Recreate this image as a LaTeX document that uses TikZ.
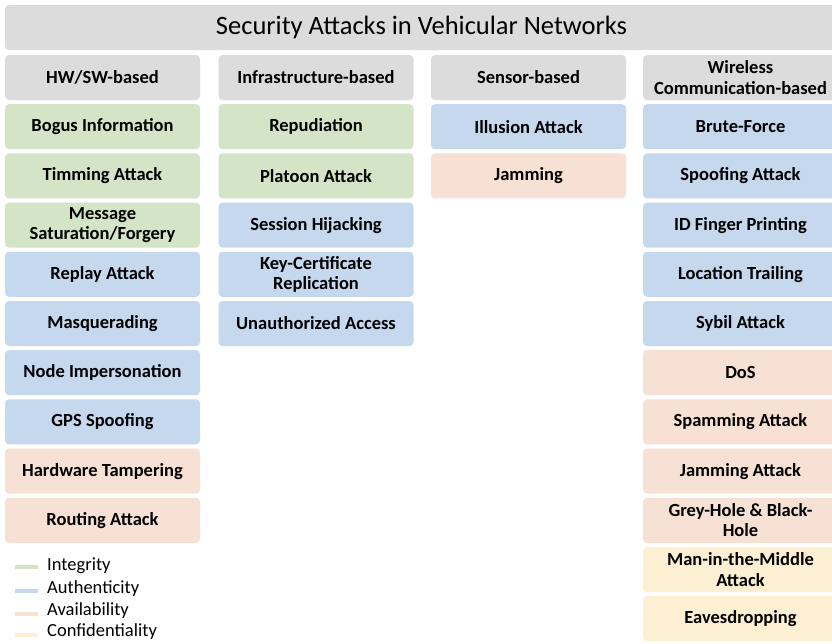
\documentclass[tikz,border=0pt]{standalone}
\usepackage{fontspec}
\setmainfont{Carlito}
\usepackage{xcolor}
\usepackage{tikz}
\definecolor{hdrgray}{HTML}{DCDCDC}
\definecolor{integ}{HTML}{D4E4C6}
\definecolor{authc}{HTML}{C6D8EE}
\definecolor{avail}{HTML}{F6E1D4}
\definecolor{confd}{HTML}{FDF0D2}

\tikzset{
  cell/.style={rounded corners=4pt,minimum width=195pt,minimum height=45pt,
    inner sep=0pt,align=center,font=\fontsize{18.5}{20.5}\selectfont\bfseries},
  hdr/.style={cell,fill=hdrgray},
  integrity/.style={cell,fill=integ},
  authentic/.style={cell,fill=authc},
  available/.style={cell,fill=avail},
  confident/.style={cell,fill=confd},
  keyline/.style={line width=4pt},
  keytext/.style={anchor=west,inner sep=0pt,font=\fontsize{18.5}{20}\selectfont}
}

\begin{document}
\begin{tikzpicture}[x=1pt,y=-1pt]
    \useasboundingbox (0,0) rectangle (832,643);
    \fill[white] (0,0) rectangle (832,643);

    % title bar
    \node[hdr,minimum width=833pt,font=\fontsize{26.5}{28}\selectfont] (title) at (421.5,27.5) {Security Attacks in Vehicular Networks};

    % HW/SW-based
    \node[hdr] (hwsw) at (102.5,77.5) {HW/SW-based};
    \node[integrity] (bogus) at (102.5,126.7) {Bogus Information};
    \node[integrity] (timing) at (102.5,175.9) {Timming Attack};
    \node[integrity] (msgsat) at (102.5,225.1) {Message\\Saturation/Forgery};
    \node[authentic] (replay) at (102.5,274.3) {Replay Attack};
    \node[authentic] (masq) at (102.5,323.5) {Masquerading};
    \node[authentic] (nodeimp) at (102.5,372.7) {Node Impersonation};
    \node[authentic] (gpsspoof) at (102.5,421.9) {GPS Spoofing};
    \node[available] (hwtamper) at (102.5,471.1) {Hardware Tampering};
    \node[available] (routing) at (102.5,520.3) {Routing Attack};

    % Infrastructure-based
    \node[hdr] (infra) at (316,77.5) {Infrastructure-based};
    \node[integrity] (repud) at (316,126.7) {Repudiation};
    \node[integrity] (platoon) at (316,175.9) {Platoon Attack};
    \node[authentic] (session) at (316,225.1) {Session Hijacking};
    \node[authentic] (keycert) at (316,274.3) {Key-Certificate\\Replication};
    \node[authentic] (unauth) at (316,323.5) {Unauthorized Access};

    % Sensor-based
    \node[hdr] (sensor) at (528.5,77.5) {Sensor-based};
    \node[authentic] (illusion) at (528.5,126.7) {Illusion Attack};
    \node[available] (jam) at (528.5,175.9) {Jamming};

    % Wireless Communication-based
    \node[hdr] (wireless) at (740.5,77.5) {Wireless\\Communication-based};
    \node[authentic] (brute) at (740.5,126.7) {Brute-Force};
    \node[authentic] (spoofing) at (740.5,175.9) {Spoofing Attack};
    \node[authentic] (idfinger) at (740.5,225.1) {ID Finger Printing};
    \node[authentic] (loctrail) at (740.5,274.3) {Location Trailing};
    \node[authentic] (sybil) at (740.5,323.5) {Sybil Attack};
    \node[available] (dos) at (740.5,372.7) {DoS};
    \node[available] (spam) at (740.5,421.9) {Spamming Attack};
    \node[available] (jamatk) at (740.5,471.1) {Jamming Attack};
    \node[available] (greyhole) at (740.5,520.3) {Grey-Hole \& Black-\\Hole};
    \node[confident] (mitm) at (740.5,569.5) {Man-in-the-Middle\\Attack};
    \node[confident] (eaves) at (740.5,618.7) {Eavesdropping};

    % legend
    \coordinate (kA) at (15,567);
    \coordinate (kB) at (15,591);
    \coordinate (kC) at (15,614);
    \coordinate (kD) at (15,635);
    \draw[keyline,integ] (kA) -- ++(23,0);
    \draw[keyline,authc] (kB) -- ++(23,0);
    \draw[keyline,avail] (kC) -- ++(23,0);
    \draw[keyline,confd] (kD) -- ++(23,0);
    \node[keytext] (lgA) at (47,566) {Integrity};
    \node[keytext] (lgB) at (47,589) {Authenticity};
    \node[keytext] (lgC) at (47,611) {Availability};
    \node[keytext] (lgD) at (47,632) {Confidentiality};
  \end{tikzpicture}
\end{document}
